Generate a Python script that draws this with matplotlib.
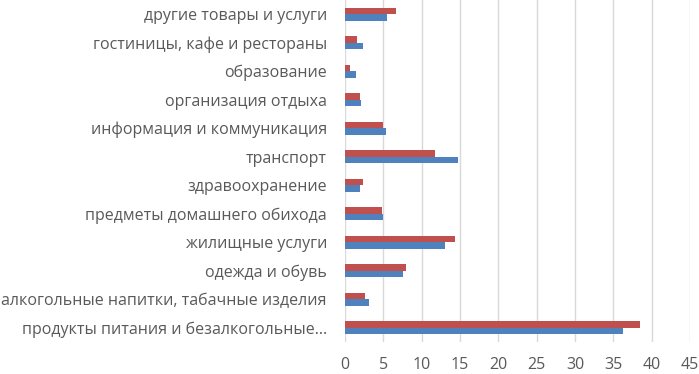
import numpy as np
import matplotlib.pyplot as plt

categories = [
    "продукты питания и безалкогольные…",
    "алкогольные напитки, табачные изделия",
    "одежда и обувь",
    "жилищные услуги",
    "предметы домашнего обихода",
    "здравоохранение",
    "транспорт",
    "информация и коммуникация",
    "организация отдыха",
    "образование",
    "гостиницы, кафе и рестораны",
    "другие товары и услуги",
]
blue_vals = [36.2, 3.1, 7.5, 13.1, 5.0, 2.0, 14.7, 5.4, 2.1, 1.4, 2.4, 5.5]
red_vals = [38.5, 2.6, 7.9, 14.4, 4.8, 2.4, 11.8, 5.0, 2.0, 0.6, 1.6, 6.6]
xticks = [0, 5, 10, 15, 20, 25, 30, 35, 40, 45]

plt.rcParams['font.family'] = ['Open Sans', 'DejaVu Sans']
fig = plt.figure(figsize=(6.99, 3.74), dpi=100)
ax = fig.add_axes([345/699, 32/374, 345/699, 342/374])

y = np.arange(len(categories))
h = 0.23
ax.barh(y - h/2, blue_vals, height=h, color='#4F81BD', zorder=3)
ax.barh(y + h/2, red_vals, height=h, color='#C0504D', zorder=3)

ax.set_xlim(0, 45)
ax.set_ylim(-0.5, len(categories) - 0.5)
ax.set_xticks(xticks)
ax.set_yticks(y)
ax.set_yticklabels(categories)
ax.tick_params(axis='both', length=0, colors='#595959', labelsize=11.5)
ax.tick_params(axis='y', pad=13)
ax.tick_params(axis='x', pad=11)
ax.grid(axis='x', color='#D9D9D9', linewidth=1, zorder=0)
for s in ax.spines.values():
    s.set_visible(False)

fig.savefig('out.png', dpi=100)
